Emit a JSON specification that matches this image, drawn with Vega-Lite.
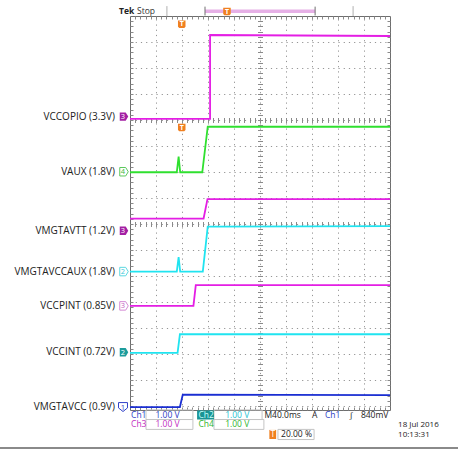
{
  "$schema": "https://vega.github.io/schema/vega-lite/v6.json",
  "width": 260,
  "height": 394,
  "autosize": {"type": "none"},
  "padding": {"left": 130, "top": 16, "right": 68, "bottom": 39},
  "background": "#ffffff",
  "config": {
    "view": {"stroke": "#6e6e6e", "strokeWidth": 1},
    "axis": {"labels": false, "domain": false, "grid": false, "ticks": true, "tickColor": "#8a8a8a", "tickWidth": 1}
  },
  "datasets": {
    "traces": [
      {"s": "VCCOPIO", "i": 0, "t": 0, "v": 3.96},
      {"s": "VCCOPIO", "i": 1, "t": 3.08, "v": 3.96},
      {"s": "VCCOPIO", "i": 2, "t": 3.08, "v": 0.73},
      {"s": "VCCOPIO", "i": 3, "t": 10, "v": 0.77},
      {"s": "VAUX", "i": 0, "t": 0, "v": 6.01},
      {"s": "VAUX", "i": 1, "t": 1.8, "v": 6.01},
      {"s": "VAUX", "i": 2, "t": 1.87, "v": 5.41},
      {"s": "VAUX", "i": 3, "t": 1.93, "v": 6.01},
      {"s": "VAUX", "i": 4, "t": 2.78, "v": 6.01},
      {"s": "VAUX", "i": 5, "t": 2.99, "v": 4.26},
      {"s": "VAUX", "i": 6, "t": 10, "v": 4.26},
      {"s": "VMGTAVTT", "i": 0, "t": 0, "v": 7.79},
      {"s": "VMGTAVTT", "i": 1, "t": 2.83, "v": 7.79},
      {"s": "VMGTAVTT", "i": 2, "t": 2.98, "v": 7.04},
      {"s": "VMGTAVTT", "i": 3, "t": 10, "v": 7.04},
      {"s": "VMGTAVCCAUX", "i": 0, "t": 0, "v": 9.83},
      {"s": "VMGTAVCCAUX", "i": 1, "t": 1.8, "v": 9.83},
      {"s": "VMGTAVCCAUX", "i": 2, "t": 1.87, "v": 9.27},
      {"s": "VMGTAVCCAUX", "i": 3, "t": 1.93, "v": 9.83},
      {"s": "VMGTAVCCAUX", "i": 4, "t": 2.8, "v": 9.83},
      {"s": "VMGTAVCCAUX", "i": 5, "t": 2.99, "v": 8.1},
      {"s": "VMGTAVCCAUX", "i": 6, "t": 10, "v": 8.08},
      {"s": "VCCPINT", "i": 0, "t": 0, "v": 11.15},
      {"s": "VCCPINT", "i": 1, "t": 2.44, "v": 11.15},
      {"s": "VCCPINT", "i": 2, "t": 2.53, "v": 10.35},
      {"s": "VCCPINT", "i": 3, "t": 10, "v": 10.35},
      {"s": "VCCINT", "i": 0, "t": 0, "v": 12.96},
      {"s": "VCCINT", "i": 1, "t": 1.83, "v": 12.96},
      {"s": "VCCINT", "i": 2, "t": 1.92, "v": 12.24},
      {"s": "VCCINT", "i": 3, "t": 10, "v": 12.24},
      {"s": "VMGTAVCC", "i": 0, "t": 0, "v": 15.04},
      {"s": "VMGTAVCC", "i": 1, "t": 1.92, "v": 15.04},
      {"s": "VMGTAVCC", "i": 2, "t": 2.03, "v": 14.56},
      {"s": "VMGTAVCC", "i": 3, "t": 10, "v": 14.58}
    ],
    "labels": [
      {"name": "VCCOPIO (3.3V)", "v": 3.87, "ch": "3", "ref": 1},
      {"name": "VAUX (1.8V)", "v": 5.99, "ch": "4", "ref": 0},
      {"name": "VMGTAVTT (1.2V)", "v": 8.26, "ch": "3", "ref": 1},
      {"name": "VMGTAVCCAUX (1.8V)", "v": 9.83, "ch": "2", "ref": 0},
      {"name": "VCCPINT (0.85V)", "v": 11.15, "ch": "3", "ref": 0},
      {"name": "VCCINT (0.72V)", "v": 12.93, "ch": "2", "ref": 1},
      {"name": "VMGTAVCC (0.9V)", "v": 15.04, "ch": "1", "ref": 0}
    ],
    "info": [
      {"t": 0.04, "v": 15.33, "s": "Ch1", "c": "ch1"},
      {"t": 0.98, "v": 15.33, "s": "1.00 V", "c": "ch1"},
      {"t": 2.63, "v": 15.33, "s": "Ch2", "c": "sel"},
      {"t": 3.66, "v": 15.33, "s": "1.00 V", "c": "ch2"},
      {"t": 5.17, "v": 15.33, "s": "M40.0ms", "c": "k"},
      {"t": 7.0, "v": 15.33, "s": "A", "c": "k"},
      {"t": 7.5, "v": 15.33, "s": "Ch1", "c": "ch1"},
      {"t": 8.45, "v": 15.33, "s": "ʃ", "c": "k"},
      {"t": 8.88, "v": 15.33, "s": "840mV", "c": "k"},
      {"t": 0.04, "v": 15.7, "s": "Ch3", "c": "ch3"},
      {"t": 0.98, "v": 15.7, "s": "1.00 V", "c": "ch3"},
      {"t": 2.63, "v": 15.7, "s": "Ch4", "c": "ch4"},
      {"t": 3.66, "v": 15.7, "s": "1.00 V", "c": "ch4"},
      {"t": 5.4, "v": 16.09, "s": "T", "c": "w"},
      {"t": 5.81, "v": 16.09, "s": "20.00 %", "c": "k"}
    ],
    "dates": [
      {"t": 10.31, "v": 15.74, "s": "18 Jul  2016"},
      {"t": 10.31, "v": 16.13, "s": "10:13:31"}
    ],
    "boxes": [
      {"t": 0.615, "t2": 2.42, "v": 15.15, "v2": 15.52},
      {"t": 3.23, "t2": 5.08, "v": 15.15, "v2": 15.52},
      {"t": 0.615, "t2": 2.42, "v": 15.52, "v2": 15.9},
      {"t": 3.23, "t2": 5.15, "v": 15.52, "v2": 15.9},
      {"t": 5.69, "t2": 7.08, "v": 15.9, "v2": 16.29}
    ],
    "fills": [
      {"t": 2.58, "t2": 3.23, "v": 15.17, "v2": 15.52, "c": "teal"},
      {"t": 5.36, "t2": 5.62, "v": 15.92, "v2": 16.27, "c": "orange"},
      {"t": 2.885, "t2": 7.12, "v": -0.25, "v2": -0.12, "c": "pink"}
    ],
    "rules": [
      {"t": 1.42, "t2": 1.42, "v": -0.38, "v2": 0, "c": "g"},
      {"t": 8.58, "t2": 8.58, "v": -0.38, "v2": 0, "c": "g"},
      {"t": 2.885, "t2": 2.885, "v": -0.36, "v2": -0.02, "c": "d"},
      {"t": 7.12, "t2": 7.12, "v": -0.36, "v2": -0.02, "c": "d"}
    ],
    "base": [
      {"t": -5, "t2": 12.62, "v": 16.62}
    ],
    "top": [
      {"t": -0.42, "v": -0.19, "s": "Tek"},
      {"t": 0.27, "v": -0.19, "s": "Stop"}
    ],
    "trig": [
      {"t": 1.99, "v": 0.3},
      {"t": 1.99, "v": 4.27},
      {"t": 3.73, "v": -0.19}
    ]
  },
  "layer": [
    {
      "data": {"name": "traces"},
      "mark": {"type": "point", "opacity": 0},
      "encoding": {
        "x": {"field": "t", "type": "quantitative", "scale": {"domain": [0, 10], "nice": false, "zero": false},
          "axis": {"orient": "bottom", "title": null, "values": [1, 2, 3, 4, 5, 6, 7, 8, 9], "grid": true, "gridDash": [1.2, 4], "gridColor": "#959595", "gridWidth": 1, "gridOpacity": 1, "ticks": false}},
        "y": {"field": "v", "type": "quantitative", "scale": {"domain": [0, 15.154], "nice": false, "zero": false, "reverse": true},
          "axis": {"orient": "left", "title": null, "values": [1, 2, 3, 4, 5, 6, 7, 8, 9, 10, 11, 12, 13, 14, 15], "grid": true, "gridDash": [1.2, 4], "gridColor": "#959595", "gridWidth": 1, "gridOpacity": 1, "ticks": false}}
      }
    },
    {
      "data": {"name": "traces"},
      "mark": {"type": "point", "opacity": 0},
      "encoding": {
        "x": {"field": "t", "type": "quantitative", "axis": {"orient": "bottom", "title": null, "offset": -3, "tickSize": 3, "values": [0.2,0.4,0.6,0.8,1,1.2,1.4,1.6,1.8,2,2.2,2.4,2.6,2.8,3,3.2,3.4,3.6,3.8,4,4.2,4.4,4.6,4.8,5,5.2,5.4,5.6,5.8,6,6.2,6.4,6.6,6.8,7,7.2,7.4,7.6,7.8,8,8.2,8.4,8.6,8.8,9,9.2,9.4,9.6,9.8]}},
        "y": {"field": "v", "type": "quantitative", "axis": {"orient": "left", "title": null, "offset": -3, "tickSize": 3, "values": [0.2,0.4,0.6,0.8,1,1.2,1.4,1.6,1.8,2,2.2,2.4,2.6,2.8,3,3.2,3.4,3.6,3.8,4,4.2,4.4,4.6,4.8,5,5.2,5.4,5.6,5.8,6,6.2,6.4,6.6,6.8,7,7.2,7.4,7.6,7.8,8,8.2,8.4,8.6,8.8,9,9.2,9.4,9.6,9.8,10,10.2,10.4,10.6,10.8,11,11.2,11.4,11.6,11.8,12,12.2,12.4,12.6,12.8,13,13.2,13.4,13.6,13.8,14,14.2,14.4,14.6,14.8,15]}}
      }
    },
    {
      "data": {"name": "traces"},
      "mark": {"type": "point", "opacity": 0},
      "encoding": {
        "x": {"field": "t", "type": "quantitative", "axis": {"orient": "top", "title": null, "offset": -3, "tickSize": 3, "values": [0.2,0.4,0.6,0.8,1,1.2,1.4,1.6,1.8,2,2.2,2.4,2.6,2.8,3,3.2,3.4,3.6,3.8,4,4.2,4.4,4.6,4.8,5,5.2,5.4,5.6,5.8,6,6.2,6.4,6.6,6.8,7,7.2,7.4,7.6,7.8,8,8.2,8.4,8.6,8.8,9,9.2,9.4,9.6,9.8]}},
        "y": {"field": "v", "type": "quantitative", "axis": {"orient": "right", "title": null, "offset": -3, "tickSize": 3, "values": [0.2,0.4,0.6,0.8,1,1.2,1.4,1.6,1.8,2,2.2,2.4,2.6,2.8,3,3.2,3.4,3.6,3.8,4,4.2,4.4,4.6,4.8,5,5.2,5.4,5.6,5.8,6,6.2,6.4,6.6,6.8,7,7.2,7.4,7.6,7.8,8,8.2,8.4,8.6,8.8,9,9.2,9.4,9.6,9.8,10,10.2,10.4,10.6,10.8,11,11.2,11.4,11.6,11.8,12,12.2,12.4,12.6,12.8,13,13.2,13.4,13.6,13.8,14,14.2,14.4,14.6,14.8,15]}}
      }
    },
    {
      "data": {"name": "traces"},
      "mark": {"type": "point", "opacity": 0},
      "encoding": {
        "x": {"field": "t", "type": "quantitative", "axis": {"orient": "bottom", "title": null, "offset": -292.5, "tickSize": 5, "values": [0.2,0.4,0.6,0.8,1,1.2,1.4,1.6,1.8,2,2.2,2.4,2.6,2.8,3,3.2,3.4,3.6,3.8,4,4.2,4.4,4.6,4.8,5,5.2,5.4,5.6,5.8,6,6.2,6.4,6.6,6.8,7,7.2,7.4,7.6,7.8,8,8.2,8.4,8.6,8.8,9,9.2,9.4,9.6,9.8]}},
        "y": {"field": "v", "type": "quantitative", "axis": {"orient": "left", "title": null, "offset": -132.5, "tickSize": 5, "values": [0.2,0.4,0.6,0.8,1,1.2,1.4,1.6,1.8,2,2.2,2.4,2.6,2.8,3,3.2,3.4,3.6,3.8,4,4.2,4.4,4.6,4.8,5,5.2,5.4,5.6,5.8,6,6.2,6.4,6.6,6.8,7,7.2,7.4,7.6,7.8,8,8.2,8.4,8.6,8.8,9,9.2,9.4,9.6,9.8,10,10.2,10.4,10.6,10.8,11,11.2,11.4,11.6,11.8,12,12.2,12.4,12.6,12.8,13,13.2,13.4,13.6,13.8,14,14.2,14.4,14.6,14.8,15]}}
      }
    },
    {
      "data": {"name": "traces"},
      "mark": {"type": "point", "opacity": 0},
      "encoding": {
        "x": {"field": "t", "type": "quantitative", "axis": {"orient": "bottom", "title": null, "offset": -188.5, "tickSize": 5, "values": [0.2,0.4,0.6,0.8,1,1.2,1.4,1.6,1.8,2,2.2,2.4,2.6,2.8,3,3.2,3.4,3.6,3.8,4,4.2,4.4,4.6,4.8,5,5.2,5.4,5.6,5.8,6,6.2,6.4,6.6,6.8,7,7.2,7.4,7.6,7.8,8,8.2,8.4,8.6,8.8,9,9.2,9.4,9.6,9.8]}},
        "y": {"field": "v", "type": "quantitative", "axis": null}
      }
    },
    {
      "data": {"name": "traces"},
      "mark": {"type": "line", "strokeWidth": 1.8, "interpolate": "linear"},
      "encoding": {
        "x": {"field": "t", "type": "quantitative", "axis": null},
        "y": {"field": "v", "type": "quantitative", "axis": null},
        "order": {"field": "i", "type": "quantitative"},
        "color": {"field": "s", "type": "nominal", "legend": null,
          "scale": {"domain": ["VCCOPIO", "VAUX", "VMGTAVTT", "VMGTAVCCAUX", "VCCPINT", "VCCINT", "VMGTAVCC"],
            "range": ["#e41ee4", "#2fe02f", "#e41ee4", "#20e4f0", "#e41ee4", "#20e4f0", "#1a2ed2"]}}
      }
    },
    {
      "data": {"name": "labels"},
      "mark": {"type": "text", "align": "right", "baseline": "middle", "font": "Open Sans", "fontSize": 10, "color": "#222222", "dx": -15},
      "encoding": {
        "x": {"datum": 0, "type": "quantitative", "axis": null},
        "y": {"field": "v", "type": "quantitative", "axis": null},
        "text": {"field": "name", "type": "nominal"}
      }
    },
    {
      "data": {"name": "labels"},
      "transform": [{"filter": "datum.ref == 0 && datum.ch != '1'"}],
      "mark": {"type": "point", "filled": true, "fill": "#ffffff", "strokeWidth": 1, "opacity": 1, "size": 72, "shape": "M -1 -1 L 0.4 -1 L 1 0 L 0.4 1 L -1 1 Z", "xOffset": -6},
      "encoding": {
        "x": {"datum": 0, "type": "quantitative", "axis": null},
        "y": {"field": "v", "type": "quantitative", "axis": null},
        "stroke": {"field": "ch", "type": "nominal", "legend": null, "scale": {"domain": ["1", "2", "3", "4"], "range": ["#3040c8", "#5cd8e0", "#d48ad4", "#5cc85c"]}}
      }
    },
    {
      "data": {"name": "labels"},
      "transform": [{"filter": "datum.ch == '1'"}],
      "mark": {"type": "point", "filled": true, "fill": "#ffffff", "stroke": "#3040c8", "strokeWidth": 1, "opacity": 1, "size": 80, "shape": "M -1 -1 L 1 -1 L 1 0.2 L 0 1 L -1 0.2 Z", "xOffset": -7},
      "encoding": {
        "x": {"datum": 0, "type": "quantitative", "axis": null},
        "y": {"field": "v", "type": "quantitative", "axis": null}
      }
    },
    {
      "data": {"name": "labels"},
      "transform": [{"filter": "datum.ref == 1"}],
      "mark": {"type": "point", "filled": true, "strokeWidth": 0, "opacity": 1, "size": 72, "shape": "M -1 -1 L 0.4 -1 L 1 0 L 0.4 1 L -1 1 Z", "xOffset": -6},
      "encoding": {
        "x": {"datum": 0, "type": "quantitative", "axis": null},
        "y": {"field": "v", "type": "quantitative", "axis": null},
        "fill": {"field": "ch", "type": "nominal", "legend": null, "scale": {"domain": ["2", "3"], "range": ["#1c9c9c", "#a31fa3"]}}
      }
    },
    {
      "data": {"name": "labels"},
      "mark": {"type": "text", "align": "center", "baseline": "middle", "font": "Open Sans", "fontSize": 7.5, "dx": -7, "dy": 0.5},
      "encoding": {
        "x": {"datum": 0, "type": "quantitative", "axis": null},
        "y": {"field": "v", "type": "quantitative", "axis": null},
        "text": {"field": "ch", "type": "nominal"},
        "color": {"field": "ch", "type": "nominal", "legend": null, "condition": {"test": "datum.ref == 1", "value": "#ffffff"},
          "scale": {"domain": ["1", "2", "3", "4"], "range": ["#3040c8", "#3cc8d8", "#c060c0", "#40b840"]}}
      }
    },
    {
      "data": {"name": "boxes"},
      "mark": {"type": "rect", "fill": null, "fillOpacity": 0, "stroke": "#c4c4c4", "strokeWidth": 1},
      "encoding": {
        "x": {"field": "t", "type": "quantitative", "axis": null},
        "x2": {"field": "t2"},
        "y": {"field": "v", "type": "quantitative", "axis": null},
        "y2": {"field": "v2"}
      }
    },
    {
      "data": {"name": "fills"},
      "mark": {"type": "rect", "strokeWidth": 0},
      "encoding": {
        "x": {"field": "t", "type": "quantitative", "axis": null},
        "x2": {"field": "t2"},
        "y": {"field": "v", "type": "quantitative", "axis": null},
        "y2": {"field": "v2"},
        "fill": {"field": "c", "type": "nominal", "legend": null, "scale": {"domain": ["teal", "orange", "pink"], "range": ["#1a9494", "#f08020", "#e6b0e6"]}}
      }
    },
    {
      "data": {"name": "rules"},
      "mark": {"type": "rule", "strokeWidth": 1},
      "encoding": {
        "x": {"field": "t", "type": "quantitative", "axis": null},
        "x2": {"field": "t2"},
        "y": {"field": "v", "type": "quantitative", "axis": null},
        "y2": {"field": "v2"},
        "stroke": {"field": "c", "type": "nominal", "legend": null, "scale": {"domain": ["g", "d"], "range": ["#b0b0b0", "#707070"]}}
      }
    },
    {
      "data": {"name": "base"},
      "mark": {"type": "rule", "strokeWidth": 2, "color": "#8a8a8a"},
      "encoding": {
        "x": {"field": "t", "type": "quantitative", "axis": null},
        "x2": {"field": "t2"},
        "y": {"field": "v", "type": "quantitative", "axis": null}
      }
    },
    {
      "data": {"name": "info"},
      "mark": {"type": "text", "align": "left", "baseline": "middle", "font": "Open Sans", "fontSize": 8.5},
      "encoding": {
        "x": {"field": "t", "type": "quantitative", "axis": null},
        "y": {"field": "v", "type": "quantitative", "axis": null},
        "text": {"field": "s", "type": "nominal"},
        "color": {"field": "c", "type": "nominal", "legend": null,
          "scale": {"domain": ["ch1", "ch2", "ch3", "ch4", "k", "sel", "w"], "range": ["#2b3bc4", "#1fc3d3", "#c22ec2", "#2fb52f", "#222222", "#c8ffff", "#ffffff"]}}
      }
    },
    {
      "data": {"name": "dates"},
      "mark": {"type": "text", "align": "left", "baseline": "middle", "font": "Open Sans", "fontSize": 8, "color": "#222222"},
      "encoding": {
        "x": {"field": "t", "type": "quantitative", "axis": null},
        "y": {"field": "v", "type": "quantitative", "axis": null},
        "text": {"field": "s", "type": "nominal"}
      }
    },
    {
      "data": {"name": "top"},
      "transform": [{"filter": "datum.s == 'Tek'"}],
      "mark": {"type": "text", "align": "left", "baseline": "middle", "font": "Open Sans", "fontSize": 8.5, "fontWeight": "bold", "color": "#222222"},
      "encoding": {
        "x": {"field": "t", "type": "quantitative", "axis": null},
        "y": {"field": "v", "type": "quantitative", "axis": null},
        "text": {"field": "s", "type": "nominal"}
      }
    },
    {
      "data": {"name": "top"},
      "transform": [{"filter": "datum.s == 'Stop'"}],
      "mark": {"type": "text", "align": "left", "baseline": "middle", "font": "Open Sans", "fontSize": 8.5, "color": "#333333"},
      "encoding": {
        "x": {"field": "t", "type": "quantitative", "axis": null},
        "y": {"field": "v", "type": "quantitative", "axis": null},
        "text": {"field": "s", "type": "nominal"}
      }
    },
    {
      "data": {"name": "trig"},
      "mark": {"type": "point", "filled": true, "fill": "#f08020", "strokeWidth": 0, "opacity": 1, "size": 70, "shape": "M -0.9 -0.8 L 0.9 -0.8 L 0.9 0.7 L 0.6 1 L -0.6 1 L -0.9 0.7 Z"},
      "encoding": {
        "x": {"field": "t", "type": "quantitative", "axis": null},
        "y": {"field": "v", "type": "quantitative", "axis": null}
      }
    },
    {
      "data": {"name": "trig"},
      "mark": {"type": "text", "align": "center", "baseline": "middle", "font": "Open Sans", "fontSize": 7, "fontWeight": "bold", "color": "#ffffff", "text": "T", "dy": 0.5},
      "encoding": {
        "x": {"field": "t", "type": "quantitative", "axis": null},
        "y": {"field": "v", "type": "quantitative", "axis": null}
      }
    }
  ],
  "resolve": {
    "axis": {"x": "independent", "y": "independent"},
    "scale": {"color": "independent", "fill": "independent", "stroke": "independent"}
  }
}
